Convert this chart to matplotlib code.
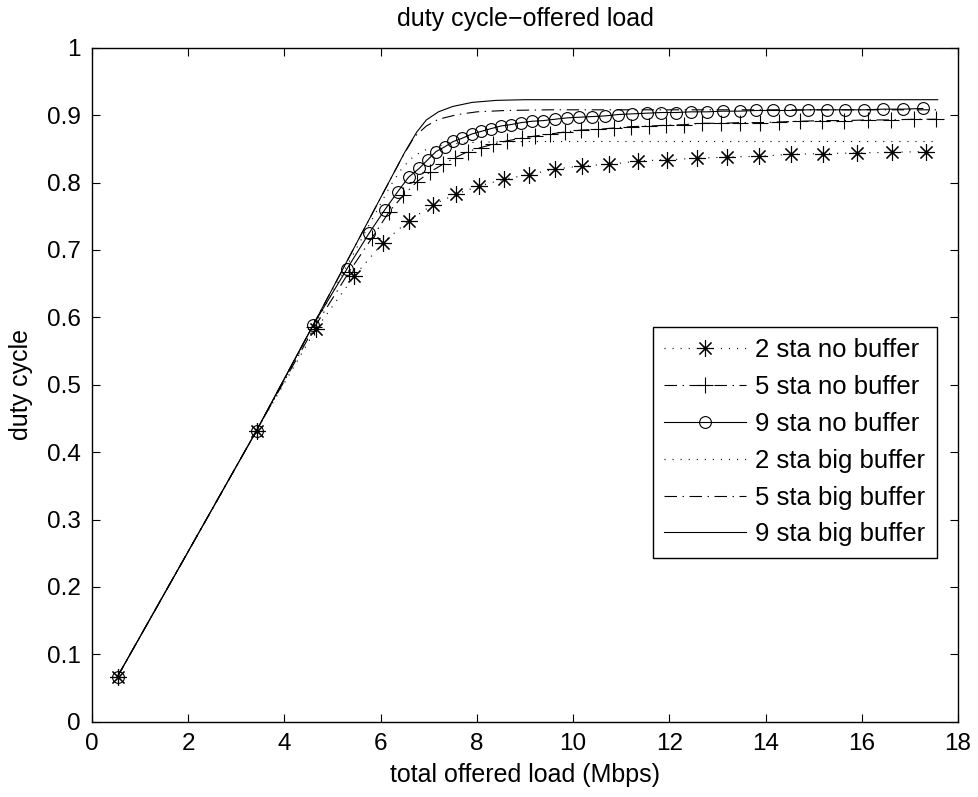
import matplotlib
matplotlib.use('Agg')
import matplotlib.pyplot as plt

plt.rcParams.update({
    'font.family': ['Liberation Sans', 'DejaVu Sans'],
    'font.size': 17.5,
    'axes.linewidth': 1.0,
    'lines.scale_dashes': False,
    'axes.unicode_minus': True,
})

# 2 sta, no buffer
x2_nb = [0.53, 3.42, 4.65, 5.45, 6.05, 6.58, 7.08, 7.57, 8.05, 8.57, 9.09, 9.63,
         10.19, 10.75, 11.35, 11.95, 12.57, 13.20, 13.87, 14.53, 15.20, 15.91,
         16.63, 17.34]
y2_nb = [0.067, 0.432, 0.582, 0.661, 0.711, 0.743, 0.767, 0.783, 0.795, 0.805,
         0.812, 0.820, 0.825, 0.827, 0.832, 0.834, 0.836, 0.838, 0.839, 0.842,
         0.843, 0.844, 0.845, 0.846]

# 5 sta, no buffer
x5_nb = [0.53, 3.42, 4.62, 5.35, 5.82, 6.18, 6.47, 6.75, 7.03, 7.29, 7.55, 7.81,
         8.08, 8.34, 8.63, 8.93, 9.21, 9.51, 9.83, 10.17, 10.51, 10.85, 11.20,
         11.58, 11.93, 12.31, 12.68, 13.08, 13.47, 13.88, 14.29, 14.72, 15.17,
         15.64, 16.12, 16.60, 17.08, 17.55]
y5_nb = [0.067, 0.432, 0.585, 0.668, 0.718, 0.757, 0.781, 0.801, 0.816, 0.827,
         0.837, 0.846, 0.852, 0.857, 0.862, 0.866, 0.869, 0.872, 0.875, 0.878,
         0.879, 0.881, 0.883, 0.884, 0.885, 0.886, 0.888, 0.888, 0.889, 0.889,
         0.890, 0.891, 0.892, 0.892, 0.893, 0.893, 0.894, 0.894]

# 9 sta, no buffer
x9_nb = [0.53, 3.42, 4.60, 5.30, 5.76, 6.09, 6.35, 6.58, 6.80, 6.98, 7.15, 7.33,
         7.51, 7.70, 7.89, 8.09, 8.29, 8.50, 8.70, 8.92, 9.14, 9.38, 9.62, 9.87,
         10.13, 10.40, 10.67, 10.94, 11.23, 11.53, 11.83, 12.14, 12.45, 12.78,
         13.11, 13.46, 13.80, 14.15, 14.51, 14.89, 15.27, 15.65, 16.05, 16.45,
         16.85, 17.27]
y9_nb = [0.067, 0.432, 0.589, 0.672, 0.725, 0.760, 0.786, 0.808, 0.821, 0.834,
         0.846, 0.853, 0.861, 0.866, 0.872, 0.876, 0.880, 0.884, 0.886, 0.889,
         0.891, 0.892, 0.894, 0.896, 0.897, 0.898, 0.899, 0.901, 0.902, 0.903,
         0.904, 0.904, 0.905, 0.905, 0.906, 0.906, 0.907, 0.907, 0.907, 0.908,
         0.908, 0.908, 0.908, 0.909, 0.909, 0.910]

# big buffer curves (no markers)
x2_bb = [0.53, 3.42, 4.62, 6.20, 6.45, 6.70, 7.00, 7.40, 8.00, 9.00, 17.58]
y2_bb = [0.067, 0.432, 0.587, 0.795, 0.822, 0.840, 0.851, 0.857, 0.860, 0.861, 0.861]

x5_bb = [0.53, 3.42, 4.60, 6.45, 6.70, 6.95, 7.20, 7.60, 8.00, 8.60, 9.50, 17.58]
y5_bb = [0.067, 0.432, 0.589, 0.838, 0.868, 0.884, 0.894, 0.901, 0.905, 0.907,
         0.908, 0.908]

x9_bb = [0.53, 3.42, 4.60, 6.50, 6.75, 6.95, 7.20, 7.50, 7.90, 8.40, 9.00, 17.58]
y9_bb = [0.067, 0.432, 0.589, 0.845, 0.875, 0.893, 0.905, 0.913, 0.919, 0.922,
         0.923, 0.923]

labels = ['2 sta no buffer', '5 sta no buffer', '9 sta no buffer',
          '2 sta big buffer', '5 sta big buffer', '9 sta big buffer']

DOT = (0, (0.8, 5.0))
DASHDOT = (0, (9, 4, 1, 4))
LW = 0.8

fig = plt.figure(figsize=(9.79, 7.97), dpi=100)
ax = fig.add_axes([0.094, 0.0945, 0.8845, 0.8455])

ax.plot(x2_nb, y2_nb, color='k', lw=LW, ls=DOT, marker=(8, 2, 0), ms=12,
        mew=0.8, label=labels[0])
ax.plot(x5_nb, y5_nb, color='k', lw=LW, ls=DASHDOT, marker='+', ms=11,
        mew=0.8, label=labels[1])
ax.plot(x9_nb, y9_nb, color='k', lw=LW, ls='-', marker='o', ms=8.5,
        mew=0.8, mfc='none', label=labels[2])
ax.plot(x2_bb, y2_bb, color='k', lw=LW, ls=DOT, label=labels[3])
ax.plot(x5_bb, y5_bb, color='k', lw=LW, ls=DASHDOT, label=labels[4])
ax.plot(x9_bb, y9_bb, color='k', lw=LW, ls='-', label=labels[5])

ax.set_xlim(0, 18)
ax.set_ylim(0, 1)
ax.set_xticks(range(0, 19, 2))
ax.set_yticks([i / 10 for i in range(11)])
ax.set_yticklabels(['0', '0.1', '0.2', '0.3', '0.4', '0.5', '0.6', '0.7',
                    '0.8', '0.9', '1'])
ax.tick_params(direction='in', length=6, width=0.8, top=True, right=True,
               pad=8, labelsize=17.5)

ax.set_xlabel('total offered load (Mbps)', labelpad=6, fontsize=18)
ax.set_ylabel('duty cycle', labelpad=10, fontsize=18)
ax.set_title('duty cycle\u2212offered load', pad=16, fontsize=18)

leg = ax.legend(loc='lower right', bbox_to_anchor=(0.976, 0.243),
                borderaxespad=0, fancybox=False, edgecolor='k',
                framealpha=1, handlelength=3.2, handletextpad=0.35,
                labelspacing=0.5, borderpad=0.45, fontsize=18.5)
leg.get_frame().set_linewidth(1.0)

fig.savefig('out.png', dpi=100)
